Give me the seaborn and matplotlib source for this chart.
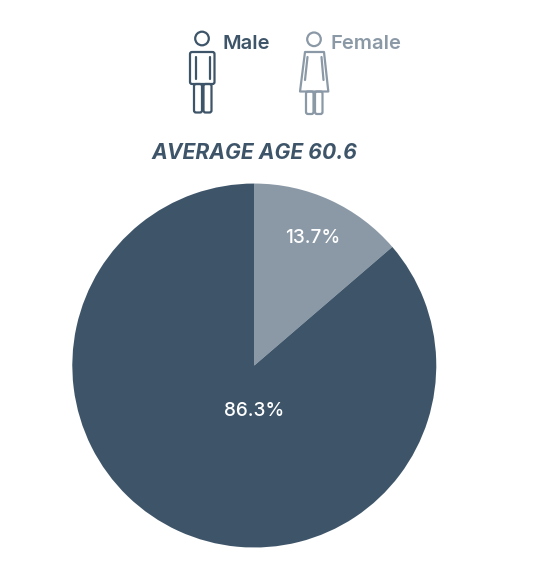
import matplotlib
matplotlib.use("Agg")
import matplotlib.pyplot as plt
import matplotlib.patches as mpatches
import seaborn as sns

# data
genders = ['Female', 'Male']
shares = [13.7, 86.3]
avg_age = 60.6
title = 'AVERAGE AGE %.1f' % avg_age

dark = '#3e5569'
light = '#8b99a7'

sns.set_theme(style='white')
plt.rcParams['font.family'] = ['Inter', 'DejaVu Sans']

fig = plt.figure(figsize=(5.35, 5.77), dpi=100)

# pie
ax = fig.add_axes([0.1351, 0.0511, 0.6804, 0.6308])
wedges, texts, autotexts = ax.pie(shares, colors=[light, dark], startangle=90, counterclock=False,
                                  autopct='%1.1f%%', pctdistance=0.77,
                                  wedgeprops=dict(linewidth=0),
                                  textprops=dict(color='white', fontsize=13.7, fontweight='medium'))
autotexts[1].set_position((0.0, -0.25))
ax.set_xlim(-1, 1)
ax.set_ylim(-1, 1)
ax.set_aspect('equal')

# overlay in pixel coords for the icons and headings
ov = fig.add_axes([0, 0, 1, 1])
ov.set_xlim(0, 535)
ov.set_ylim(577, 0)
ov.axis('off')


def male_icon(x, col):
    lw = 1.6
    ov.add_patch(mpatches.Circle((x, 38.5), 6.8, fill=False, ec=col, lw=lw))
    ov.add_patch(mpatches.FancyBboxPatch((x - 12, 52), 24.5, 32, boxstyle='round,pad=0,rounding_size=2',
                                         fill=False, ec=col, lw=lw))
    ov.plot([x - 6.5, x - 6.5], [57, 79], color=col, lw=lw, solid_capstyle='round')
    ov.plot([x + 7.5, x + 7.5], [57, 79], color=col, lw=lw, solid_capstyle='round')
    ov.add_patch(mpatches.FancyBboxPatch((x - 8, 84), 8, 28.5, boxstyle='round,pad=0,rounding_size=2',
                                         fill=False, ec=col, lw=lw))
    ov.add_patch(mpatches.FancyBboxPatch((x + 1.5, 84), 8, 28.5, boxstyle='round,pad=0,rounding_size=2',
                                         fill=False, ec=col, lw=lw))


def female_icon(x, col):
    lw = 1.6
    ov.add_patch(mpatches.Circle((x, 39.3), 6.8, fill=False, ec=col, lw=lw))
    ov.add_patch(mpatches.Polygon([(x - 9, 52), (x + 10, 52), (x + 14.3, 91.5), (x - 14, 91.5)],
                                  closed=True, fill=False, ec=col, lw=lw, joinstyle='round'))
    ov.plot([x - 6.5, x - 9], [57, 80], color=col, lw=lw, solid_capstyle='round')
    ov.plot([x + 7.5, x + 9.5], [57, 80], color=col, lw=lw, solid_capstyle='round')
    ov.add_patch(mpatches.FancyBboxPatch((x - 8, 91.5), 7.5, 22.5, boxstyle='round,pad=0,rounding_size=2',
                                         fill=False, ec=col, lw=lw))
    ov.add_patch(mpatches.FancyBboxPatch((x + 1, 91.5), 7.5, 22.5, boxstyle='round,pad=0,rounding_size=2',
                                         fill=False, ec=col, lw=lw))


male_icon(202, dark)
female_icon(314, light)
ov.text(222, 48.7, genders[1], color=dark, fontsize=14.5, fontweight='semibold', va='baseline', ha='left')
ov.text(330.5, 48.7, genders[0], color=light, fontsize=14.5, fontweight='semibold', va='baseline', ha='left')
ov.text(254, 159, title, color=dark, fontsize=15.2, fontweight='bold', fontstyle='italic',
        va='baseline', ha='center')

fig.savefig('out.png', dpi=100)
